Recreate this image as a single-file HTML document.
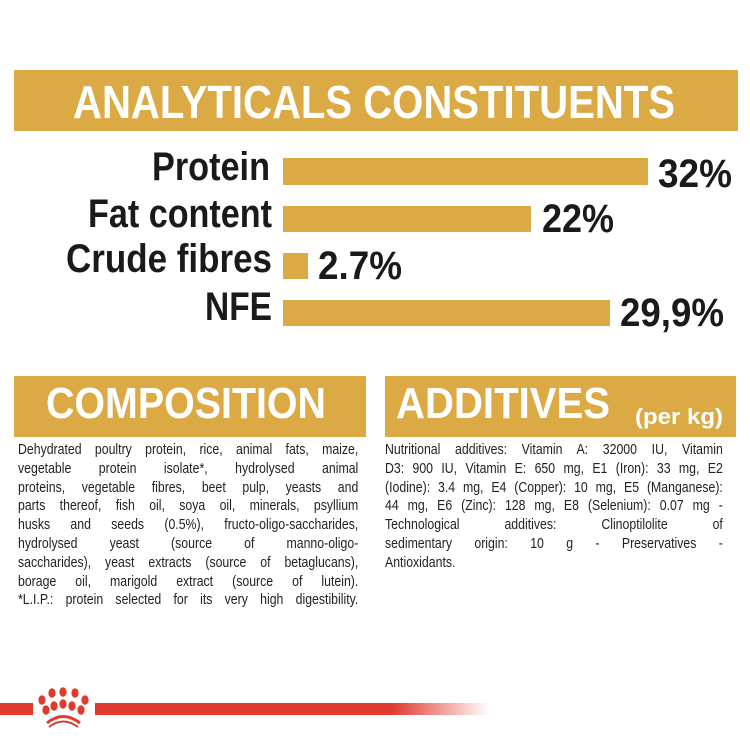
<!DOCTYPE html>
<html><head><meta charset="utf-8"><style>
html,body{margin:0;padding:0;background:#fff;width:750px;height:750px;overflow:hidden}
.t{position:absolute;font-family:"Liberation Sans",sans-serif;font-size:15px;color:#222;line-height:18.8px;transform:scaleX(0.82);transform-origin:0 0}
.t div{text-align:justify;text-align-last:justify;white-space:nowrap}
.t div.l{text-align-last:left}
</style></head><body>
<svg width="750" height="750" style="position:absolute;left:0;top:0" font-family="Liberation Sans, sans-serif" font-weight="bold">
<rect x="14" y="70" width="724" height="61" fill="#dcaa45"/>
<text x="73" y="118" font-size="46" fill="#fff" textLength="602" lengthAdjust="spacingAndGlyphs">ANALYTICALS CONSTITUENTS</text>
<g fill="#dcaa45">
<rect x="283" y="158" width="365" height="27"/>
<rect x="283" y="206" width="248" height="26"/>
<rect x="283" y="253" width="25" height="26"/>
<rect x="283" y="300" width="327" height="26"/>
</g>
<g fill="#1a1a1a" font-size="40">
<text x="152" y="180" textLength="118" lengthAdjust="spacingAndGlyphs">Protein</text>
<text x="88" y="227" textLength="184" lengthAdjust="spacingAndGlyphs">Fat content</text>
<text x="66" y="272" textLength="206" lengthAdjust="spacingAndGlyphs">Crude fibres</text>
<text x="205" y="320" textLength="67" lengthAdjust="spacingAndGlyphs">NFE</text>
<text x="658" y="187" textLength="74" lengthAdjust="spacingAndGlyphs">32%</text>
<text x="542" y="232" textLength="72" lengthAdjust="spacingAndGlyphs">22%</text>
<text x="318" y="279" textLength="84" lengthAdjust="spacingAndGlyphs">2.7%</text>
<text x="620" y="326" textLength="104" lengthAdjust="spacingAndGlyphs">29,9%</text>
</g>
<rect x="14" y="376" width="352" height="61" fill="#dcaa45"/>
<rect x="385" y="376" width="351" height="61" fill="#dcaa45"/>
<text x="46" y="418" font-size="44" fill="#fff" textLength="280" lengthAdjust="spacingAndGlyphs">COMPOSITION</text>
<text x="396" y="418" font-size="44" fill="#fff" textLength="214" lengthAdjust="spacingAndGlyphs">ADDITIVES</text>
<text x="635" y="424" font-size="22" fill="#fff" textLength="88" lengthAdjust="spacingAndGlyphs">(per kg)</text>
<defs><linearGradient id="g" x1="0" x2="1"><stop offset="0" stop-color="#e03a2e"/><stop offset="0.75" stop-color="#e03a2e"/><stop offset="1" stop-color="#e03a2e" stop-opacity="0"/></linearGradient></defs>
<rect x="0" y="703" width="33" height="12" fill="#e03a2e"/>
<rect x="95" y="703" width="395" height="12" fill="url(#g)"/>
<g fill="#e03a2e">
<ellipse cx="42" cy="700" rx="3.6" ry="4.8"/><ellipse cx="52" cy="693" rx="3.6" ry="4.8"/><ellipse cx="63" cy="692" rx="3.6" ry="4.8"/><ellipse cx="75" cy="693" rx="3.6" ry="4.8"/><ellipse cx="85" cy="700" rx="3.6" ry="4.8"/>
<ellipse cx="46" cy="710" rx="3.6" ry="4.8"/><ellipse cx="54" cy="706" rx="3.6" ry="4.8"/><ellipse cx="63" cy="704" rx="3.6" ry="4.8"/><ellipse cx="72" cy="706" rx="3.6" ry="4.8"/><ellipse cx="81" cy="710" rx="3.6" ry="4.8"/>
</g>
<path d="M47 723 Q63 710 80 723" stroke="#e03a2e" stroke-width="3" fill="none"/>
<path d="M49 727 Q63 716 78 727" stroke="#e03a2e" stroke-width="2" fill="none"/>
</svg>
<div class="t" style="left:18px;top:441px;width:415px">
<div>Dehydrated poultry protein, rice, animal fats, maize,</div>
<div>vegetable protein isolate*, hydrolysed animal</div>
<div>proteins, vegetable fibres, beet pulp, yeasts and</div>
<div>parts thereof, fish oil, soya oil, minerals, psyllium</div>
<div>husks and seeds (0.5%), fructo-oligo-saccharides,</div>
<div>hydrolysed yeast (source of manno-oligo-</div>
<div>saccharides), yeast extracts (source of betaglucans),</div>
<div>borage oil, marigold extract (source of lutein).</div>
<div>*L.I.P.: protein selected for its very high digestibility.</div>
</div>
<div class="t" style="left:385px;top:441px;width:412px">
<div>Nutritional additives: Vitamin A: 32000 IU, Vitamin</div>
<div>D3: 900 IU, Vitamin E: 650 mg, E1 (Iron): 33 mg, E2</div>
<div>(Iodine): 3.4 mg, E4 (Copper): 10 mg, E5 (Manganese):</div>
<div>44 mg, E6 (Zinc): 128 mg, E8 (Selenium): 0.07 mg -</div>
<div>Technological additives: Clinoptilolite of</div>
<div>sedimentary origin: 10 g - Preservatives -</div>
<div class="l">Antioxidants.</div>
</div>
</body></html>
